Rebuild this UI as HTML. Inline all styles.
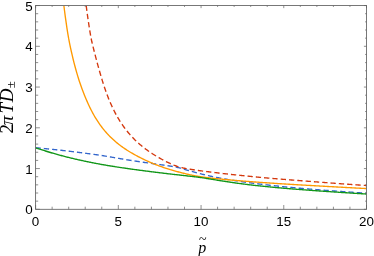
<!DOCTYPE html>
<html><head><meta charset="utf-8"><title>plot</title>
<style>
html,body{margin:0;padding:0;background:#fff;}
svg{display:block;will-change:transform;}
text{font-family:"Liberation Sans",sans-serif;font-size:13.4px;fill:#000;}
.m{font-family:"Liberation Serif",serif;}
</style></head><body>
<svg width="374" height="256" viewBox="0 0 374 256">
<rect width="374" height="256" fill="#fff"/>
<defs><clipPath id="c"><rect x="35.6" y="5.55" width="330.9" height="203.75"/></clipPath></defs>
<g clip-path="url(#c)" fill="none" stroke-width="1.35" stroke-linejoin="round">
<path d="M35.50 147.75 L35.91 147.79 L36.33 147.82 L37.16 147.89 L37.98 147.96 L38.81 148.04 L39.64 148.11 L40.47 148.18 L41.29 148.26 L42.12 148.34 L42.95 148.41 L43.77 148.49 L44.60 148.57 L45.43 148.65 L46.26 148.73 L47.09 148.81 L47.91 148.89 L48.74 148.97 L49.57 149.06 L50.40 149.14 L51.22 149.22 L52.05 149.31 L52.88 149.39 L53.70 149.48 L54.53 149.57 L55.36 149.66 L56.19 149.74 L57.02 149.83 L57.84 149.92 L58.67 150.01 L59.50 150.11 L60.33 150.20 L61.15 150.29 L61.98 150.38 L62.81 150.48 L63.64 150.57 L64.46 150.67 L65.29 150.76 L66.12 150.86 L66.94 150.96 L67.77 151.05 L68.60 151.15 L69.43 151.25 L70.25 151.35 L71.08 151.45 L71.91 151.55 L72.74 151.65 L73.56 151.75 L74.39 151.85 L75.22 151.96 L76.05 152.06 L76.88 152.16 L77.70 152.27 L78.53 152.37 L79.36 152.48 L80.19 152.58 L81.01 152.69 L81.84 152.79 L82.67 152.90 L83.49 153.01 L84.32 153.11 L85.15 153.22 L85.98 153.33 L86.81 153.44 L87.63 153.55 L88.46 153.66 L89.29 153.77 L90.11 153.88 L90.94 153.99 L91.77 154.10 L92.60 154.21 L93.42 154.32 L94.25 154.43 L95.08 154.55 L95.91 154.66 L96.73 154.78 L97.56 154.90 L98.39 155.02 L99.22 155.14 L100.04 155.26 L100.87 155.39 L101.70 155.52 L102.53 155.65 L103.36 155.78 L104.18 155.91 L105.01 156.05 L105.84 156.18 L106.67 156.32 L107.49 156.46 L108.32 156.59 L109.15 156.73 L109.97 156.87 L110.80 157.02 L111.63 157.16 L112.46 157.30 L113.28 157.44 L114.11 157.59 L114.94 157.73 L115.77 157.87 L116.59 158.02 L117.42 158.16 L118.25 158.30 L119.08 158.45 L119.91 158.59 L120.73 158.73 L121.56 158.88 L122.39 159.02 L123.22 159.16 L124.04 159.30 L124.87 159.44 L125.70 159.58 L126.52 159.72 L127.35 159.85 L128.18 159.99 L129.01 160.12 L129.83 160.26 L130.66 160.39 L131.49 160.52 L132.32 160.65 L133.14 160.77 L133.97 160.90 L134.80 161.02 L135.63 161.14 L136.45 161.26 L137.28 161.38 L138.11 161.50 L138.94 161.62 L139.76 161.74 L140.59 161.86 L141.42 161.98 L142.25 162.10 L143.07 162.22 L143.90 162.34 L144.73 162.46 L145.56 162.58 L146.38 162.70 L147.21 162.81 L148.04 162.93 L148.87 163.05 L149.69 163.17 L150.52 163.28 L151.35 163.40 L152.18 163.52 L153.00 163.64 L153.83 163.75 L154.66 163.87 L155.49 163.99 L156.31 164.10 L157.14 164.22 L157.97 164.34 L158.80 164.45 L159.62 164.57 L160.45 164.69 L161.28 164.80 L162.11 164.92 L162.94 165.04 L163.76 165.15 L164.59 165.27 L165.42 165.39 L166.25 165.51 L167.07 165.63 L167.90 165.75 L168.73 165.87 L169.56 166.00 L170.38 166.12 L171.21 166.25 L172.04 166.38 L172.87 166.52 L173.69 166.65 L174.52 166.80 L175.35 166.95 L176.18 167.11 L177.00 167.28 L177.83 167.47 L178.66 167.66 L179.48 167.87 L180.31 168.09 L181.14 168.32 L181.97 168.56 L182.80 168.80 L183.62 169.04 L184.45 169.29 L185.28 169.54 L186.10 169.78 L186.93 170.03 L187.76 170.28 L188.59 170.52 L189.42 170.76 L190.24 171.00 L191.07 171.24 L191.90 171.47 L192.72 171.71 L193.55 171.94 L194.38 172.17 L195.21 172.39 L196.03 172.62 L196.86 172.84 L197.69 173.06 L198.52 173.27 L199.34 173.49 L200.17 173.70 L201.00 173.90 L201.83 174.11 L202.66 174.31 L203.48 174.51 L204.31 174.71 L205.14 174.91 L205.97 175.10 L206.79 175.29 L207.62 175.48 L208.45 175.67 L209.28 175.85 L210.10 176.04 L210.93 176.22 L211.76 176.39 L212.59 176.57 L213.41 176.74 L214.24 176.92 L215.07 177.09 L215.90 177.26 L216.72 177.42 L217.55 177.59 L218.38 177.75 L219.21 177.91 L220.03 178.07 L220.86 178.22 L221.69 178.38 L222.51 178.53 L223.34 178.69 L224.17 178.84 L225.00 178.99 L225.83 179.13 L226.65 179.28 L227.48 179.42 L228.31 179.56 L229.13 179.71 L229.96 179.84 L230.79 179.98 L231.62 180.12 L232.45 180.25 L233.27 180.39 L234.10 180.52 L234.93 180.65 L235.75 180.78 L236.58 180.91 L237.41 181.04 L238.24 181.16 L239.06 181.29 L239.89 181.41 L240.72 181.53 L241.55 181.66 L242.38 181.78 L243.20 181.89 L244.03 182.01 L244.86 182.13 L245.69 182.24 L246.51 182.36 L247.34 182.47 L248.17 182.59 L249.00 182.70 L249.82 182.81 L250.65 182.92 L251.48 183.03 L252.31 183.13 L253.13 183.24 L253.96 183.35 L254.79 183.45 L255.61 183.55 L256.44 183.66 L257.27 183.76 L258.10 183.86 L258.93 183.96 L259.75 184.06 L260.58 184.16 L261.41 184.26 L262.24 184.36 L263.06 184.46 L263.89 184.56 L264.72 184.65 L265.55 184.75 L266.37 184.85 L267.20 184.94 L268.03 185.04 L268.86 185.13 L269.68 185.22 L270.51 185.32 L271.34 185.41 L272.16 185.50 L272.99 185.59 L273.82 185.68 L274.65 185.77 L275.48 185.86 L276.30 185.95 L277.13 186.04 L277.96 186.12 L278.78 186.21 L279.61 186.30 L280.44 186.38 L281.27 186.47 L282.10 186.55 L282.92 186.64 L283.75 186.72 L284.58 186.81 L285.40 186.89 L286.23 186.97 L287.06 187.05 L287.89 187.13 L288.72 187.21 L289.54 187.29 L290.37 187.37 L291.20 187.45 L292.03 187.53 L292.85 187.61 L293.68 187.69 L294.51 187.76 L295.33 187.84 L296.16 187.92 L296.99 187.99 L297.82 188.07 L298.64 188.14 L299.47 188.22 L300.30 188.29 L301.13 188.36 L301.95 188.44 L302.78 188.51 L303.61 188.58 L304.44 188.65 L305.27 188.72 L306.09 188.79 L306.92 188.86 L307.75 188.93 L308.57 189.00 L309.40 189.07 L310.23 189.14 L311.06 189.20 L311.88 189.27 L312.71 189.34 L313.54 189.40 L314.37 189.47 L315.19 189.53 L316.02 189.60 L316.85 189.66 L317.68 189.73 L318.50 189.79 L319.33 189.85 L320.16 189.92 L320.99 189.98 L321.81 190.04 L322.64 190.11 L323.47 190.17 L324.30 190.23 L325.12 190.30 L325.95 190.36 L326.78 190.42 L327.61 190.48 L328.44 190.54 L329.26 190.61 L330.09 190.67 L330.92 190.73 L331.75 190.79 L332.57 190.85 L333.40 190.91 L334.23 190.97 L335.05 191.03 L335.88 191.09 L336.71 191.15 L337.54 191.21 L338.37 191.27 L339.19 191.33 L340.02 191.39 L340.85 191.45 L341.68 191.51 L342.50 191.57 L343.33 191.63 L344.16 191.69 L344.99 191.74 L345.81 191.80 L346.64 191.86 L347.47 191.92 L348.30 191.97 L349.12 192.03 L349.95 192.09 L350.78 192.15 L351.60 192.20 L352.43 192.26 L353.26 192.32 L354.09 192.37 L354.92 192.43 L355.74 192.48 L356.57 192.54 L357.40 192.60 L358.23 192.65 L359.05 192.71 L359.88 192.76 L360.71 192.82 L361.54 192.87 L362.36 192.93 L363.19 192.98 L364.02 193.03 L364.84 193.09 L365.67 193.14 L366.50 193.20" stroke="#3366cc" stroke-dasharray="5.3 3.03"/>
<path d="M63.89 5.55 L64.46 10.22 L65.29 16.54 L66.12 22.46 L66.94 28.03 L67.77 33.27 L68.60 38.22 L69.49 42.89 L70.42 47.31 L71.34 51.49 L72.25 55.46 L73.15 59.24 L74.05 62.83 L74.95 66.25 L75.83 69.51 L76.72 72.63 L77.60 75.61 L78.48 78.45 L79.35 81.18 L80.23 83.80 L81.11 86.30 L81.98 88.71 L82.85 91.02 L83.71 93.25 L84.57 95.39 L85.41 97.45 L86.25 99.44 L87.08 101.36 L87.90 103.20 L88.71 104.99 L89.52 106.72 L90.33 108.38 L91.14 110.00 L91.95 111.56 L92.76 113.07 L93.56 114.54 L94.37 115.96 L95.18 117.33 L95.99 118.67 L96.81 119.97 L97.62 121.23 L98.44 122.45 L99.25 123.64 L100.07 124.80 L100.89 125.92 L101.71 127.01 L102.53 128.08 L103.34 129.11 L104.16 130.12 L104.98 131.09 L105.80 132.05 L106.62 132.97 L107.44 133.87 L108.26 134.75 L109.08 135.61 L109.90 136.45 L110.72 137.26 L111.54 138.06 L112.36 138.83 L113.18 139.59 L114.00 140.33 L114.82 141.05 L115.64 141.75 L116.46 142.44 L117.28 143.12 L118.10 143.78 L118.92 144.42 L119.74 145.05 L120.56 145.67 L121.38 146.28 L122.20 146.87 L123.02 147.45 L123.84 148.02 L124.66 148.58 L125.48 149.13 L126.30 149.67 L127.11 150.20 L127.93 150.72 L128.75 151.23 L129.57 151.73 L130.39 152.23 L131.21 152.71 L132.03 153.19 L132.84 153.66 L133.66 154.12 L134.48 154.58 L135.30 155.03 L136.12 155.48 L136.93 155.92 L137.75 156.35 L138.56 156.78 L139.37 157.20 L140.18 157.61 L140.99 158.02 L141.80 158.43 L142.61 158.83 L143.41 159.22 L144.22 159.61 L145.03 159.99 L145.83 160.37 L146.64 160.75 L147.45 161.12 L148.25 161.48 L149.06 161.84 L149.86 162.20 L150.67 162.55 L151.48 162.89 L152.28 163.23 L153.09 163.57 L153.90 163.90 L154.71 164.23 L155.51 164.55 L156.32 164.87 L157.14 165.18 L157.97 165.49 L158.80 165.80 L159.62 166.10 L160.45 166.40 L161.28 166.69 L162.11 166.97 L162.94 167.26 L163.76 167.54 L164.59 167.81 L165.42 168.08 L166.25 168.35 L167.07 168.61 L167.90 168.87 L168.73 169.13 L169.56 169.38 L170.38 169.64 L171.21 169.88 L172.04 170.13 L172.87 170.37 L173.69 170.61 L174.52 170.85 L175.35 171.08 L176.18 171.31 L177.00 171.54 L177.83 171.76 L178.66 171.98 L179.48 172.20 L180.31 172.42 L181.14 172.63 L181.97 172.84 L182.80 173.05 L183.62 173.26 L184.45 173.46 L185.28 173.66 L186.10 173.85 L186.93 174.05 L187.76 174.24 L188.59 174.42 L189.42 174.61 L190.24 174.79 L191.07 174.96 L191.90 175.14 L192.72 175.31 L193.55 175.47 L194.38 175.63 L195.21 175.79 L196.03 175.95 L196.86 176.10 L197.69 176.25 L198.52 176.39 L199.34 176.53 L200.17 176.66 L201.00 176.79 L201.83 176.92 L202.66 177.04 L203.48 177.16 L204.31 177.27 L205.14 177.38 L205.97 177.49 L206.79 177.59 L207.62 177.69 L208.45 177.79 L209.28 177.89 L210.10 177.98 L210.93 178.08 L211.76 178.17 L212.59 178.26 L213.41 178.34 L214.24 178.43 L215.07 178.52 L215.90 178.60 L216.72 178.69 L217.55 178.77 L218.38 178.85 L219.21 178.93 L220.03 179.01 L220.86 179.09 L221.69 179.17 L222.51 179.25 L223.34 179.33 L224.17 179.41 L225.00 179.48 L225.83 179.56 L226.65 179.64 L227.48 179.71 L228.31 179.79 L229.13 179.86 L229.96 179.94 L230.79 180.01 L231.62 180.08 L232.45 180.15 L233.27 180.23 L234.10 180.30 L234.93 180.37 L235.75 180.44 L236.58 180.51 L237.41 180.58 L238.24 180.65 L239.06 180.72 L239.89 180.79 L240.72 180.85 L241.55 180.92 L242.38 180.99 L243.20 181.06 L244.03 181.12 L244.86 181.19 L245.69 181.26 L246.51 181.32 L247.34 181.39 L248.17 181.45 L249.00 181.52 L249.82 181.58 L250.65 181.64 L251.48 181.71 L252.31 181.77 L253.13 181.83 L253.96 181.89 L254.79 181.96 L255.61 182.02 L256.44 182.08 L257.27 182.14 L258.10 182.20 L258.93 182.26 L259.75 182.32 L260.58 182.38 L261.41 182.44 L262.24 182.50 L263.06 182.55 L263.89 182.61 L264.72 182.67 L265.55 182.73 L266.37 182.78 L267.20 182.84 L268.03 182.90 L268.86 182.95 L269.68 183.01 L270.51 183.07 L271.34 183.12 L272.16 183.18 L272.99 183.23 L273.82 183.28 L274.65 183.34 L275.48 183.39 L276.30 183.45 L277.13 183.50 L277.96 183.55 L278.78 183.61 L279.61 183.66 L280.44 183.71 L281.27 183.76 L282.10 183.82 L282.92 183.87 L283.75 183.92 L284.58 183.97 L285.40 184.02 L286.23 184.07 L287.06 184.12 L287.89 184.17 L288.72 184.22 L289.54 184.27 L290.37 184.32 L291.20 184.37 L292.03 184.42 L292.85 184.47 L293.68 184.52 L294.51 184.57 L295.33 184.62 L296.16 184.67 L296.99 184.72 L297.82 184.77 L298.64 184.82 L299.47 184.87 L300.30 184.91 L301.13 184.96 L301.95 185.01 L302.78 185.06 L303.61 185.11 L304.44 185.15 L305.27 185.20 L306.09 185.25 L306.92 185.30 L307.75 185.34 L308.57 185.39 L309.40 185.44 L310.23 185.49 L311.06 185.53 L311.88 185.58 L312.71 185.63 L313.54 185.67 L314.37 185.72 L315.19 185.77 L316.02 185.81 L316.85 185.86 L317.68 185.91 L318.50 185.95 L319.33 186.00 L320.16 186.05 L320.99 186.09 L321.81 186.14 L322.64 186.19 L323.47 186.23 L324.30 186.28 L325.12 186.33 L325.95 186.37 L326.78 186.42 L327.61 186.47 L328.44 186.51 L329.26 186.56 L330.09 186.60 L330.92 186.65 L331.75 186.70 L332.57 186.74 L333.40 186.79 L334.23 186.83 L335.05 186.88 L335.88 186.93 L336.71 186.97 L337.54 187.02 L338.37 187.06 L339.19 187.11 L340.02 187.15 L340.85 187.20 L341.68 187.24 L342.50 187.29 L343.33 187.34 L344.16 187.38 L344.99 187.43 L345.81 187.47 L346.64 187.52 L347.47 187.56 L348.30 187.61 L349.12 187.65 L349.95 187.70 L350.78 187.74 L351.60 187.78 L352.43 187.83 L353.26 187.87 L354.09 187.92 L354.92 187.96 L355.74 188.01 L356.57 188.05 L357.40 188.10 L358.23 188.14 L359.05 188.18 L359.88 188.23 L360.71 188.27 L361.54 188.31 L362.36 188.36 L363.19 188.40 L364.02 188.45 L364.84 188.49 L365.67 188.53 L366.50 188.58" stroke="#ff9900"/>
<path d="M35.50 147.75 L35.91 147.89 L36.33 148.03 L37.16 148.31 L37.98 148.59 L38.81 148.86 L39.64 149.14 L40.47 149.41 L41.29 149.68 L42.12 149.94 L42.95 150.21 L43.77 150.47 L44.60 150.73 L45.43 150.99 L46.26 151.24 L47.09 151.50 L47.91 151.75 L48.74 152.00 L49.57 152.25 L50.40 152.50 L51.22 152.74 L52.05 152.98 L52.88 153.22 L53.70 153.46 L54.53 153.70 L55.36 153.93 L56.19 154.16 L57.02 154.39 L57.84 154.62 L58.67 154.85 L59.50 155.08 L60.33 155.30 L61.15 155.52 L61.98 155.74 L62.81 155.96 L63.64 156.18 L64.46 156.39 L65.29 156.61 L66.12 156.82 L66.94 157.03 L67.77 157.24 L68.60 157.44 L69.43 157.65 L70.25 157.85 L71.08 158.05 L71.91 158.25 L72.74 158.45 L73.56 158.65 L74.39 158.84 L75.22 159.04 L76.05 159.23 L76.88 159.42 L77.70 159.61 L78.53 159.80 L79.36 159.98 L80.19 160.17 L81.01 160.35 L81.84 160.53 L82.67 160.71 L83.49 160.89 L84.32 161.07 L85.15 161.24 L85.98 161.42 L86.81 161.59 L87.63 161.76 L88.46 161.93 L89.29 162.10 L90.11 162.27 L90.94 162.43 L91.77 162.60 L92.60 162.76 L93.42 162.92 L94.25 163.08 L95.08 163.24 L95.91 163.40 L96.73 163.56 L97.56 163.71 L98.39 163.86 L99.22 164.02 L100.04 164.17 L100.87 164.32 L101.70 164.46 L102.53 164.61 L103.36 164.76 L104.18 164.90 L105.01 165.04 L105.84 165.18 L106.67 165.32 L107.49 165.46 L108.32 165.60 L109.15 165.74 L109.97 165.88 L110.80 166.01 L111.63 166.14 L112.46 166.28 L113.28 166.41 L114.11 166.54 L114.94 166.67 L115.77 166.80 L116.59 166.93 L117.42 167.05 L118.25 167.18 L119.08 167.31 L119.91 167.43 L120.73 167.56 L121.56 167.68 L122.39 167.80 L123.22 167.92 L124.04 168.04 L124.87 168.16 L125.70 168.28 L126.52 168.40 L127.35 168.52 L128.18 168.63 L129.01 168.75 L129.83 168.87 L130.66 168.98 L131.49 169.10 L132.32 169.21 L133.14 169.32 L133.97 169.44 L134.80 169.55 L135.63 169.66 L136.45 169.77 L137.28 169.88 L138.11 169.99 L138.94 170.10 L139.76 170.21 L140.59 170.32 L141.42 170.43 L142.25 170.54 L143.07 170.65 L143.90 170.76 L144.73 170.87 L145.56 170.97 L146.38 171.08 L147.21 171.19 L148.04 171.29 L148.87 171.40 L149.69 171.51 L150.52 171.61 L151.35 171.72 L152.18 171.82 L153.00 171.93 L153.83 172.03 L154.66 172.14 L155.49 172.24 L156.31 172.34 L157.14 172.44 L157.97 172.54 L158.80 172.65 L159.62 172.75 L160.45 172.85 L161.28 172.95 L162.11 173.04 L162.94 173.14 L163.76 173.24 L164.59 173.34 L165.42 173.44 L166.25 173.53 L167.07 173.63 L167.90 173.73 L168.73 173.82 L169.56 173.92 L170.38 174.01 L171.21 174.11 L172.04 174.20 L172.87 174.30 L173.69 174.39 L174.52 174.49 L175.35 174.58 L176.18 174.67 L177.00 174.77 L177.83 174.86 L178.66 174.95 L179.48 175.04 L180.31 175.14 L181.14 175.23 L181.97 175.32 L182.80 175.41 L183.62 175.50 L184.45 175.60 L185.28 175.69 L186.10 175.78 L186.93 175.87 L187.76 175.96 L188.59 176.06 L189.42 176.15 L190.24 176.24 L191.07 176.34 L191.90 176.43 L192.72 176.53 L193.55 176.63 L194.38 176.72 L195.21 176.82 L196.03 176.93 L196.86 177.03 L197.69 177.13 L198.52 177.24 L199.34 177.35 L200.17 177.47 L201.00 177.58 L201.83 177.70 L202.66 177.82 L203.48 177.95 L204.31 178.07 L205.14 178.20 L205.97 178.33 L206.79 178.46 L207.62 178.60 L208.45 178.73 L209.28 178.87 L210.10 179.00 L210.93 179.14 L211.76 179.27 L212.59 179.41 L213.41 179.54 L214.24 179.68 L215.07 179.82 L215.90 179.95 L216.72 180.09 L217.55 180.22 L218.38 180.35 L219.21 180.49 L220.03 180.62 L220.86 180.75 L221.69 180.88 L222.51 181.01 L223.34 181.14 L224.17 181.27 L225.00 181.40 L225.83 181.53 L226.65 181.65 L227.48 181.78 L228.31 181.90 L229.13 182.03 L229.96 182.15 L230.79 182.27 L231.62 182.39 L232.45 182.51 L233.27 182.63 L234.10 182.75 L234.93 182.87 L235.75 182.99 L236.58 183.10 L237.41 183.22 L238.24 183.33 L239.06 183.44 L239.89 183.55 L240.72 183.67 L241.55 183.78 L242.38 183.88 L243.20 183.99 L244.03 184.10 L244.86 184.20 L245.69 184.31 L246.51 184.41 L247.34 184.52 L248.17 184.62 L249.00 184.72 L249.82 184.82 L250.65 184.92 L251.48 185.01 L252.31 185.11 L253.13 185.21 L253.96 185.30 L254.79 185.39 L255.61 185.48 L256.44 185.58 L257.27 185.67 L258.10 185.76 L258.93 185.85 L259.75 185.93 L260.58 186.02 L261.41 186.11 L262.24 186.19 L263.06 186.28 L263.89 186.37 L264.72 186.45 L265.55 186.53 L266.37 186.62 L267.20 186.70 L268.03 186.78 L268.86 186.86 L269.68 186.94 L270.51 187.02 L271.34 187.10 L272.16 187.18 L272.99 187.26 L273.82 187.33 L274.65 187.41 L275.48 187.49 L276.30 187.56 L277.13 187.64 L277.96 187.71 L278.78 187.79 L279.61 187.86 L280.44 187.94 L281.27 188.01 L282.10 188.08 L282.92 188.15 L283.75 188.22 L284.58 188.30 L285.40 188.37 L286.23 188.44 L287.06 188.51 L287.89 188.57 L288.72 188.64 L289.54 188.71 L290.37 188.78 L291.20 188.85 L292.03 188.91 L292.85 188.98 L293.68 189.05 L294.51 189.11 L295.33 189.18 L296.16 189.24 L296.99 189.31 L297.82 189.37 L298.64 189.44 L299.47 189.50 L300.30 189.57 L301.13 189.63 L301.95 189.69 L302.78 189.76 L303.61 189.82 L304.44 189.88 L305.27 189.94 L306.09 190.00 L306.92 190.06 L307.75 190.13 L308.57 190.19 L309.40 190.25 L310.23 190.31 L311.06 190.37 L311.88 190.43 L312.71 190.49 L313.54 190.55 L314.37 190.61 L315.19 190.66 L316.02 190.72 L316.85 190.78 L317.68 190.84 L318.50 190.90 L319.33 190.96 L320.16 191.02 L320.99 191.07 L321.81 191.13 L322.64 191.19 L323.47 191.25 L324.30 191.30 L325.12 191.36 L325.95 191.42 L326.78 191.47 L327.61 191.53 L328.44 191.59 L329.26 191.64 L330.09 191.70 L330.92 191.76 L331.75 191.81 L332.57 191.87 L333.40 191.92 L334.23 191.98 L335.05 192.03 L335.88 192.09 L336.71 192.14 L337.54 192.20 L338.37 192.25 L339.19 192.31 L340.02 192.36 L340.85 192.42 L341.68 192.47 L342.50 192.53 L343.33 192.58 L344.16 192.63 L344.99 192.69 L345.81 192.74 L346.64 192.79 L347.47 192.85 L348.30 192.90 L349.12 192.95 L349.95 193.00 L350.78 193.06 L351.60 193.11 L352.43 193.16 L353.26 193.21 L354.09 193.26 L354.92 193.32 L355.74 193.37 L356.57 193.42 L357.40 193.47 L358.23 193.52 L359.05 193.57 L359.88 193.62 L360.71 193.67 L361.54 193.72 L362.36 193.77 L363.19 193.83 L364.02 193.88 L364.84 193.92 L365.67 193.97 L366.50 194.02" stroke="#109618"/>
<path d="M86.19 5.55 L86.81 10.34 L87.63 16.41 L88.46 22.12 L89.29 27.52 L90.11 32.62 L90.94 37.44 L91.89 42.02 L92.96 46.36 L93.99 50.49 L95.00 54.42 L95.97 58.16 L96.92 61.73 L97.84 65.14 L98.74 68.40 L99.63 71.52 L100.49 74.51 L101.34 77.37 L102.17 80.12 L102.99 82.76 L103.81 85.29 L104.61 87.73 L105.41 90.08 L106.21 92.33 L107.01 94.51 L107.81 96.61 L108.61 98.64 L109.41 100.60 L110.22 102.49 L111.02 104.31 L111.82 106.08 L112.62 107.79 L113.43 109.45 L114.23 111.05 L115.03 112.61 L115.83 114.12 L116.64 115.58 L117.44 117.00 L118.25 118.38 L119.05 119.72 L119.86 121.02 L120.67 122.28 L121.48 123.51 L122.29 124.71 L123.10 125.87 L123.91 127.01 L124.72 128.11 L125.53 129.18 L126.34 130.23 L127.16 131.25 L127.97 132.25 L128.78 133.22 L129.60 134.17 L130.41 135.09 L131.22 136.00 L132.04 136.88 L132.85 137.74 L133.66 138.58 L134.48 139.40 L135.29 140.21 L136.11 140.99 L136.92 141.76 L137.73 142.51 L138.55 143.25 L139.36 143.97 L140.18 144.67 L140.99 145.36 L141.80 146.04 L142.62 146.70 L143.43 147.35 L144.25 147.98 L145.06 148.60 L145.88 149.21 L146.69 149.81 L147.50 150.40 L148.32 150.97 L149.13 151.53 L149.94 152.09 L150.76 152.63 L151.57 153.16 L152.38 153.69 L153.19 154.21 L154.00 154.72 L154.82 155.23 L155.63 155.73 L156.44 156.22 L157.25 156.70 L158.06 157.18 L158.88 157.66 L159.69 158.12 L160.50 158.58 L161.31 159.03 L162.12 159.48 L162.94 159.92 L163.76 160.36 L164.59 160.78 L165.42 161.21 L166.25 161.62 L167.07 162.03 L167.90 162.43 L168.73 162.83 L169.56 163.22 L170.38 163.60 L171.21 163.97 L172.04 164.33 L172.87 164.69 L173.69 165.04 L174.52 165.37 L175.35 165.69 L176.18 166.00 L177.00 166.29 L177.83 166.57 L178.66 166.82 L179.48 167.06 L180.31 167.29 L181.14 167.50 L181.97 167.69 L182.80 167.88 L183.62 168.05 L184.45 168.22 L185.28 168.39 L186.10 168.54 L186.93 168.70 L187.76 168.85 L188.59 168.99 L189.42 169.13 L190.24 169.27 L191.07 169.41 L191.90 169.54 L192.72 169.67 L193.55 169.79 L194.38 169.91 L195.21 170.03 L196.03 170.15 L196.86 170.26 L197.69 170.38 L198.52 170.49 L199.34 170.61 L200.17 170.72 L201.00 170.83 L201.83 170.94 L202.66 171.05 L203.48 171.16 L204.31 171.26 L205.14 171.37 L205.97 171.48 L206.79 171.58 L207.62 171.69 L208.45 171.79 L209.28 171.89 L210.10 172.00 L210.93 172.10 L211.76 172.20 L212.59 172.30 L213.41 172.40 L214.24 172.50 L215.07 172.60 L215.90 172.69 L216.72 172.79 L217.55 172.89 L218.38 172.98 L219.21 173.08 L220.03 173.18 L220.86 173.27 L221.69 173.36 L222.51 173.46 L223.34 173.55 L224.17 173.64 L225.00 173.74 L225.83 173.83 L226.65 173.92 L227.48 174.01 L228.31 174.10 L229.13 174.19 L229.96 174.28 L230.79 174.37 L231.62 174.46 L232.45 174.55 L233.27 174.63 L234.10 174.72 L234.93 174.81 L235.75 174.90 L236.58 174.98 L237.41 175.07 L238.24 175.15 L239.06 175.24 L239.89 175.32 L240.72 175.41 L241.55 175.49 L242.38 175.58 L243.20 175.66 L244.03 175.75 L244.86 175.83 L245.69 175.91 L246.51 176.00 L247.34 176.08 L248.17 176.16 L249.00 176.25 L249.82 176.33 L250.65 176.41 L251.48 176.49 L252.31 176.58 L253.13 176.66 L253.96 176.74 L254.79 176.82 L255.61 176.90 L256.44 176.98 L257.27 177.07 L258.10 177.14 L258.93 177.22 L259.75 177.30 L260.58 177.38 L261.41 177.46 L262.24 177.53 L263.06 177.61 L263.89 177.69 L264.72 177.76 L265.55 177.84 L266.37 177.91 L267.20 177.98 L268.03 178.06 L268.86 178.13 L269.68 178.20 L270.51 178.27 L271.34 178.34 L272.16 178.42 L272.99 178.49 L273.82 178.56 L274.65 178.63 L275.48 178.70 L276.30 178.76 L277.13 178.83 L277.96 178.90 L278.78 178.97 L279.61 179.04 L280.44 179.10 L281.27 179.17 L282.10 179.24 L282.92 179.30 L283.75 179.37 L284.58 179.44 L285.40 179.50 L286.23 179.57 L287.06 179.63 L287.89 179.70 L288.72 179.76 L289.54 179.83 L290.37 179.89 L291.20 179.96 L292.03 180.02 L292.85 180.09 L293.68 180.15 L294.51 180.21 L295.33 180.28 L296.16 180.34 L296.99 180.41 L297.82 180.47 L298.64 180.53 L299.47 180.60 L300.30 180.66 L301.13 180.72 L301.95 180.79 L302.78 180.85 L303.61 180.92 L304.44 180.98 L305.27 181.04 L306.09 181.11 L306.92 181.17 L307.75 181.23 L308.57 181.30 L309.40 181.36 L310.23 181.43 L311.06 181.49 L311.88 181.56 L312.71 181.62 L313.54 181.69 L314.37 181.75 L315.19 181.82 L316.02 181.88 L316.85 181.95 L317.68 182.01 L318.50 182.07 L319.33 182.14 L320.16 182.20 L320.99 182.26 L321.81 182.33 L322.64 182.39 L323.47 182.45 L324.30 182.52 L325.12 182.58 L325.95 182.64 L326.78 182.70 L327.61 182.77 L328.44 182.83 L329.26 182.89 L330.09 182.95 L330.92 183.01 L331.75 183.07 L332.57 183.14 L333.40 183.20 L334.23 183.26 L335.05 183.32 L335.88 183.38 L336.71 183.44 L337.54 183.50 L338.37 183.56 L339.19 183.62 L340.02 183.68 L340.85 183.74 L341.68 183.80 L342.50 183.86 L343.33 183.92 L344.16 183.98 L344.99 184.04 L345.81 184.09 L346.64 184.15 L347.47 184.21 L348.30 184.27 L349.12 184.33 L349.95 184.39 L350.78 184.45 L351.60 184.50 L352.43 184.56 L353.26 184.62 L354.09 184.68 L354.92 184.74 L355.74 184.79 L356.57 184.85 L357.40 184.91 L358.23 184.97 L359.05 185.03 L359.88 185.08 L360.71 185.14 L361.54 185.20 L362.36 185.26 L363.19 185.31 L364.02 185.37 L364.84 185.43 L365.67 185.48 L366.50 185.54" stroke="#d4380e" stroke-dasharray="5.3 3.03"/>
</g>
<path d="M35.60 209.30 v-4.30 M35.60 5.55 v2.60 M52.14 209.30 v-2.60 M52.14 5.55 v1.40 M68.69 209.30 v-2.60 M68.69 5.55 v1.40 M85.23 209.30 v-2.60 M85.23 5.55 v1.40 M101.78 209.30 v-2.60 M101.78 5.55 v1.40 M118.32 209.30 v-4.30 M118.32 5.55 v2.60 M134.87 209.30 v-2.60 M134.87 5.55 v1.40 M151.41 209.30 v-2.60 M151.41 5.55 v1.40 M167.96 209.30 v-2.60 M167.96 5.55 v1.40 M184.50 209.30 v-2.60 M184.50 5.55 v1.40 M201.05 209.30 v-4.30 M201.05 5.55 v2.60 M217.59 209.30 v-2.60 M217.59 5.55 v1.40 M234.14 209.30 v-2.60 M234.14 5.55 v1.40 M250.68 209.30 v-2.60 M250.68 5.55 v1.40 M267.23 209.30 v-2.60 M267.23 5.55 v1.40 M283.77 209.30 v-4.30 M283.77 5.55 v2.60 M300.32 209.30 v-2.60 M300.32 5.55 v1.40 M316.87 209.30 v-2.60 M316.87 5.55 v1.40 M333.41 209.30 v-2.60 M333.41 5.55 v1.40 M349.95 209.30 v-2.60 M349.95 5.55 v1.40 M366.50 209.30 v-4.30 M366.50 5.55 v2.60 M35.60 209.30 h4.30 M366.50 209.30 h-2.60 M35.60 201.15 h2.60 M366.50 201.15 h-1.40 M35.60 193.00 h2.60 M366.50 193.00 h-1.40 M35.60 184.85 h2.60 M366.50 184.85 h-1.40 M35.60 176.70 h2.60 M366.50 176.70 h-1.40 M35.60 168.55 h4.30 M366.50 168.55 h-2.60 M35.60 160.40 h2.60 M366.50 160.40 h-1.40 M35.60 152.25 h2.60 M366.50 152.25 h-1.40 M35.60 144.10 h2.60 M366.50 144.10 h-1.40 M35.60 135.95 h2.60 M366.50 135.95 h-1.40 M35.60 127.80 h4.30 M366.50 127.80 h-2.60 M35.60 119.65 h2.60 M366.50 119.65 h-1.40 M35.60 111.50 h2.60 M366.50 111.50 h-1.40 M35.60 103.35 h2.60 M366.50 103.35 h-1.40 M35.60 95.20 h2.60 M366.50 95.20 h-1.40 M35.60 87.05 h4.30 M366.50 87.05 h-2.60 M35.60 78.90 h2.60 M366.50 78.90 h-1.40 M35.60 70.75 h2.60 M366.50 70.75 h-1.40 M35.60 62.60 h2.60 M366.50 62.60 h-1.40 M35.60 54.45 h2.60 M366.50 54.45 h-1.40 M35.60 46.30 h4.30 M366.50 46.30 h-2.60 M35.60 38.15 h2.60 M366.50 38.15 h-1.40 M35.60 30.00 h2.60 M366.50 30.00 h-1.40 M35.60 21.85 h2.60 M366.50 21.85 h-1.40 M35.60 13.70 h2.60 M366.50 13.70 h-1.40 M35.60 5.55 h4.30 M366.50 5.55 h-2.60" stroke="#606060" stroke-width="0.7" fill="none"/>
<rect x="35.6" y="5.55" width="330.9" height="203.75" fill="none" stroke="#606060" stroke-width="0.85"/>
<text x="35.60" y="225.7" text-anchor="middle">0</text>
<text x="118.32" y="225.7" text-anchor="middle">5</text>
<text x="201.05" y="225.7" text-anchor="middle">10</text>
<text x="283.77" y="225.7" text-anchor="middle">15</text>
<text x="366.50" y="225.7" text-anchor="middle">20</text>
<text x="32.6" y="214.30" text-anchor="end">0</text>
<text x="32.6" y="173.55" text-anchor="end">1</text>
<text x="32.6" y="132.80" text-anchor="end">2</text>
<text x="32.6" y="92.05" text-anchor="end">3</text>
<text x="32.6" y="51.30" text-anchor="end">4</text>
<text x="32.6" y="10.55" text-anchor="end">5</text>
<text class="m" style="font-size:19px" transform="translate(13.2,133.5) rotate(-90)">2<tspan dx="-1.3" font-style="italic">π</tspan><tspan dx="2.2" font-style="italic">T</tspan><tspan dx="0.7" font-style="italic">D</tspan><tspan style="font-size:13px" dx="0.2" dy="1.9">±</tspan></text>
<text class="m" style="font-size:16px;font-style:italic" x="198.2" y="252.6">p</text>
<text class="m" style="font-size:14px" x="199" y="244.3">~</text>
</svg>
</body></html>
